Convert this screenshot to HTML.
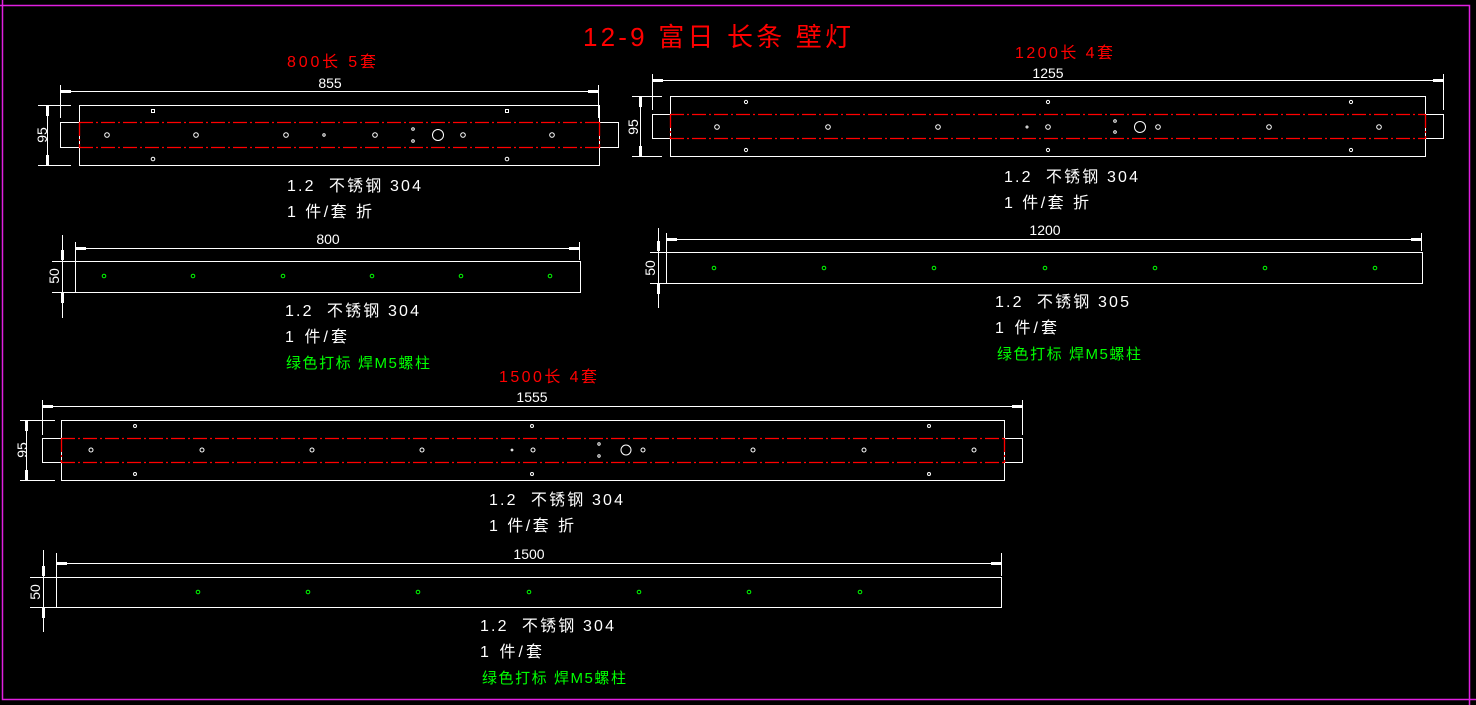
<!DOCTYPE html>
<html><head><meta charset="utf-8"><style>
html,body{margin:0;padding:0;background:#000;width:1476px;height:705px;overflow:hidden}
svg{display:block}
text{font-family:"Liberation Sans","Noto Sans CJK SC",sans-serif;white-space:pre}
</style></head><body>
<svg width="1476" height="705" viewBox="0 0 1476 705" xmlns="http://www.w3.org/2000/svg">
<rect x="0" y="0" width="1476" height="705" fill="#000"/>
<polyline points="2.5,0 2.5,699.5 1476,699.5" fill="none" stroke="#e020e0" stroke-width="1.5"/>
<polyline points="0,5.5 1469.5,5.5 1469.5,705" fill="none" stroke="#e020e0" stroke-width="1.5"/>

<text x="583" y="46" fill="#f00" font-size="26" textLength="268" lengthAdjust="spacing">12-9 富日 长条 壁灯</text>
<text x="287" y="67" fill="#f00" font-size="16" textLength="89" lengthAdjust="spacing">800长 5套</text>
<text x="1015" y="58" fill="#f00" font-size="16" textLength="98" lengthAdjust="spacing">1200长 4套</text>
<text x="499" y="382" fill="#f00" font-size="16" textLength="98" lengthAdjust="spacing">1500长 4套</text>

<g stroke="#fff" fill="none" stroke-width="1">
<rect x="79.5" y="105.5" width="520" height="60"/>
<rect x="60.5" y="122.5" width="19" height="25"/>
<rect x="599.5" y="122.5" width="19" height="25"/>
<line x1="60.5" y1="91.5" x2="598.5" y2="91.5"/>
<line x1="60.5" y1="85" x2="60.5" y2="118"/>
<line x1="598.5" y1="85" x2="598.5" y2="118"/>
<line x1="47.5" y1="105.5" x2="47.5" y2="165.5"/>
<line x1="38" y1="105.5" x2="71" y2="105.5"/>
<line x1="38" y1="165.5" x2="71" y2="165.5"/>
<rect x="75.5" y="261.5" width="505" height="31"/>
<line x1="75.5" y1="248.5" x2="579.5" y2="248.5"/>
<line x1="75.5" y1="242" x2="75.5" y2="292"/>
<line x1="579.5" y1="242" x2="579.5" y2="260"/>
<line x1="62.5" y1="235" x2="62.5" y2="318"/>
<line x1="52" y1="261.5" x2="75" y2="261.5"/>
<line x1="52" y1="292.5" x2="75" y2="292.5"/>
<rect x="670.5" y="96.5" width="755" height="60"/>
<rect x="652.5" y="114.5" width="18" height="24"/>
<rect x="1425.5" y="114.5" width="18" height="24"/>
<line x1="652.5" y1="80.5" x2="1443.5" y2="80.5"/>
<line x1="652.5" y1="74" x2="652.5" y2="110"/>
<line x1="1443.5" y1="74" x2="1443.5" y2="110"/>
<line x1="640.5" y1="96.5" x2="640.5" y2="156.5"/>
<line x1="632" y1="96.5" x2="662" y2="96.5"/>
<line x1="632" y1="156.5" x2="662" y2="156.5"/>
<rect x="666.5" y="252.5" width="756" height="31"/>
<line x1="666.5" y1="239.5" x2="1421.5" y2="239.5"/>
<line x1="666.5" y1="233" x2="666.5" y2="283"/>
<line x1="1421.5" y1="233" x2="1421.5" y2="251"/>
<line x1="658.5" y1="228" x2="658.5" y2="308"/>
<line x1="650" y1="252.5" x2="666" y2="252.5"/>
<line x1="650" y1="283.5" x2="666" y2="283.5"/>
<rect x="61.5" y="420.5" width="943" height="60"/>
<rect x="42.5" y="438.5" width="19" height="24"/>
<rect x="1004.5" y="438.5" width="18" height="24"/>
<line x1="42.5" y1="406.5" x2="1022.5" y2="406.5"/>
<line x1="42.5" y1="400" x2="42.5" y2="435"/>
<line x1="1022.5" y1="400" x2="1022.5" y2="435"/>
<line x1="26.5" y1="420.5" x2="26.5" y2="480.5"/>
<line x1="20" y1="420.5" x2="55" y2="420.5"/>
<line x1="20" y1="480.5" x2="55" y2="480.5"/>
<rect x="56.5" y="577.5" width="945" height="30"/>
<line x1="56.5" y1="563.5" x2="1001.5" y2="563.5"/>
<line x1="56.5" y1="553" x2="56.5" y2="607"/>
<line x1="1001.5" y1="553" x2="1001.5" y2="576"/>
<line x1="43.5" y1="550" x2="43.5" y2="632"/>
<line x1="30" y1="577.5" x2="56" y2="577.5"/>
<line x1="30" y1="607.5" x2="56" y2="607.5"/>
</g>

<g fill="#fff">
<rect x="61" y="90" width="10" height="3"/><rect x="588" y="90" width="10" height="3"/>
<rect x="46" y="106" width="3" height="10"/><rect x="46" y="155" width="3" height="10"/>
<rect x="76" y="247" width="10" height="3"/><rect x="569" y="247" width="10" height="3"/>
<rect x="61" y="250" width="3" height="10"/><rect x="61" y="293" width="3" height="10"/>
<rect x="653" y="79" width="10" height="3"/><rect x="1433" y="79" width="10" height="3"/>
<rect x="639" y="97" width="3" height="10"/><rect x="639" y="146" width="3" height="10"/>
<rect x="667" y="238" width="10" height="3"/><rect x="1411" y="238" width="10" height="3"/>
<rect x="657" y="241" width="3" height="10"/><rect x="657" y="284" width="3" height="10"/>
<rect x="43" y="405" width="10" height="3"/><rect x="1012" y="405" width="10" height="3"/>
<rect x="25" y="421" width="3" height="10"/><rect x="25" y="470" width="3" height="10"/>
<rect x="57" y="562" width="10" height="3"/><rect x="991" y="562" width="10" height="3"/>
<rect x="42" y="566" width="3" height="10"/><rect x="42" y="608" width="3" height="10"/>
</g>

<g stroke="#f00" stroke-width="1.3" stroke-dasharray="14,3,2,3" fill="none">
<line x1="79" y1="122.5" x2="599" y2="122.5"/><line x1="79" y1="147.5" x2="599" y2="147.5"/>
<line x1="79.5" y1="122" x2="79.5" y2="148"/><line x1="599.5" y1="122" x2="599.5" y2="148"/>
<line x1="670" y1="114.5" x2="1425" y2="114.5"/><line x1="670" y1="138.5" x2="1425" y2="138.5"/>
<line x1="670.5" y1="114" x2="670.5" y2="139"/><line x1="1425.5" y1="114" x2="1425.5" y2="139"/>
<line x1="61" y1="438.5" x2="1004" y2="438.5"/><line x1="61" y1="462.5" x2="1004" y2="462.5"/>
<line x1="61.5" y1="438" x2="61.5" y2="463"/><line x1="1004.5" y1="438" x2="1004.5" y2="463"/>
</g>

<g stroke="#fff" fill="none" stroke-width="1">
<rect x="151.5" y="109.5" width="3" height="3"/><rect x="505.5" y="109.5" width="3" height="3"/>
<circle cx="153" cy="159" r="1.8"/><circle cx="507" cy="159" r="1.8"/>
<circle cx="107" cy="135" r="2.3"/><circle cx="196" cy="135" r="2.3"/><circle cx="286" cy="135" r="2.3"/>
<circle cx="324" cy="135" r="1.2"/><circle cx="375" cy="135" r="2.3"/>
<circle cx="413" cy="129" r="1.3"/><circle cx="413" cy="141" r="1.3"/>
<circle cx="438" cy="135" r="5.5"/><circle cx="463" cy="135" r="2.3"/><circle cx="552" cy="135" r="2.3"/>
<circle cx="746" cy="102" r="1.6"/><circle cx="1048" cy="102" r="1.6"/><circle cx="1351" cy="102" r="1.6"/>
<circle cx="746" cy="150" r="1.6"/><circle cx="1048" cy="150" r="1.6"/><circle cx="1351" cy="150" r="1.6"/>
<circle cx="717" cy="127" r="2.3"/><circle cx="828" cy="127" r="2.3"/><circle cx="938" cy="127" r="2.3"/>
<circle cx="1027" cy="127" r="1"/><circle cx="1048" cy="127" r="2.3"/>
<circle cx="1115" cy="121" r="1.3"/><circle cx="1115" cy="132" r="1.3"/>
<circle cx="1140" cy="127" r="5.5"/><circle cx="1158" cy="127" r="2.3"/>
<circle cx="1269" cy="127" r="2.3"/><circle cx="1379" cy="127" r="2.3"/>
<circle cx="135" cy="426" r="1.5"/><circle cx="532" cy="426" r="1.5"/><circle cx="929" cy="426" r="1.5"/>
<circle cx="135" cy="474" r="1.5"/><circle cx="532" cy="474" r="1.5"/><circle cx="929" cy="474" r="1.5"/>
<circle cx="91" cy="450" r="2"/><circle cx="202" cy="450" r="2"/><circle cx="312" cy="450" r="2"/>
<circle cx="422" cy="450" r="2"/><circle cx="512" cy="450" r="0.9"/><circle cx="533" cy="450" r="2"/>
<circle cx="599" cy="444" r="1.2"/><circle cx="599" cy="456" r="1.2"/>
<circle cx="626" cy="450" r="5"/><circle cx="643" cy="450" r="2"/>
<circle cx="753" cy="450" r="2"/><circle cx="864" cy="450" r="2"/><circle cx="974" cy="450" r="2"/>
</g>

<g stroke="#0f0" fill="none" stroke-width="1">
<circle cx="104" cy="276" r="1.8"/><circle cx="193" cy="276" r="1.8"/><circle cx="283" cy="276" r="1.8"/>
<circle cx="372" cy="276" r="1.8"/><circle cx="461" cy="276" r="1.8"/><circle cx="550" cy="276" r="1.8"/>
<circle cx="714" cy="268" r="1.8"/><circle cx="824" cy="268" r="1.8"/><circle cx="934" cy="268" r="1.8"/>
<circle cx="1045" cy="268" r="1.8"/><circle cx="1155" cy="268" r="1.8"/><circle cx="1265" cy="268" r="1.8"/><circle cx="1375" cy="268" r="1.8"/>
<circle cx="198" cy="592" r="1.8"/><circle cx="308" cy="592" r="1.8"/><circle cx="418" cy="592" r="1.8"/>
<circle cx="529" cy="592" r="1.8"/><circle cx="639" cy="592" r="1.8"/><circle cx="749" cy="592" r="1.8"/><circle cx="860" cy="592" r="1.8"/>
</g>

<g fill="#fff" font-size="14" text-anchor="middle">
<text x="330" y="88">855</text>
<text x="328" y="244">800</text>
<text x="1048" y="78">1255</text>
<text x="1045" y="235">1200</text>
<text x="532" y="402">1555</text>
<text x="529" y="559">1500</text>
<text transform="translate(47,135) rotate(-90)">95</text>
<text transform="translate(59,276) rotate(-90)">50</text>
<text transform="translate(638,127) rotate(-90)">95</text>
<text transform="translate(655,268) rotate(-90)">50</text>
<text transform="translate(27,450) rotate(-90)">95</text>
<text transform="translate(40,592) rotate(-90)">50</text>
</g>

<g fill="#fff" font-size="16" lengthAdjust="spacing">
<text x="287" y="191" textLength="134" lengthAdjust="spacing">1.2  不锈钢 304</text>
<text x="287" y="217" textLength="85" lengthAdjust="spacing">1 件/套 折</text>
<text x="285" y="316" textLength="134" lengthAdjust="spacing">1.2  不锈钢 304</text>
<text x="285" y="342" textLength="62" lengthAdjust="spacing">1 件/套</text>
<text x="1004" y="182" textLength="134" lengthAdjust="spacing">1.2  不锈钢 304</text>
<text x="1004" y="208" textLength="85" lengthAdjust="spacing">1 件/套 折</text>
<text x="995" y="307" textLength="134" lengthAdjust="spacing">1.2  不锈钢 305</text>
<text x="995" y="333" textLength="62" lengthAdjust="spacing">1 件/套</text>
<text x="489" y="505" textLength="134" lengthAdjust="spacing">1.2  不锈钢 304</text>
<text x="489" y="531" textLength="85" lengthAdjust="spacing">1 件/套 折</text>
<text x="480" y="631" textLength="134" lengthAdjust="spacing">1.2  不锈钢 304</text>
<text x="480" y="657" textLength="62" lengthAdjust="spacing">1 件/套</text>
</g>
<g fill="#0f0" font-size="15">
<text x="286" y="368" textLength="144" lengthAdjust="spacing">绿色打标 焊M5螺柱</text>
<text x="997" y="359" textLength="144" lengthAdjust="spacing">绿色打标 焊M5螺柱</text>
<text x="482" y="683" textLength="144" lengthAdjust="spacing">绿色打标 焊M5螺柱</text>
</g>
</svg>
</body></html>
